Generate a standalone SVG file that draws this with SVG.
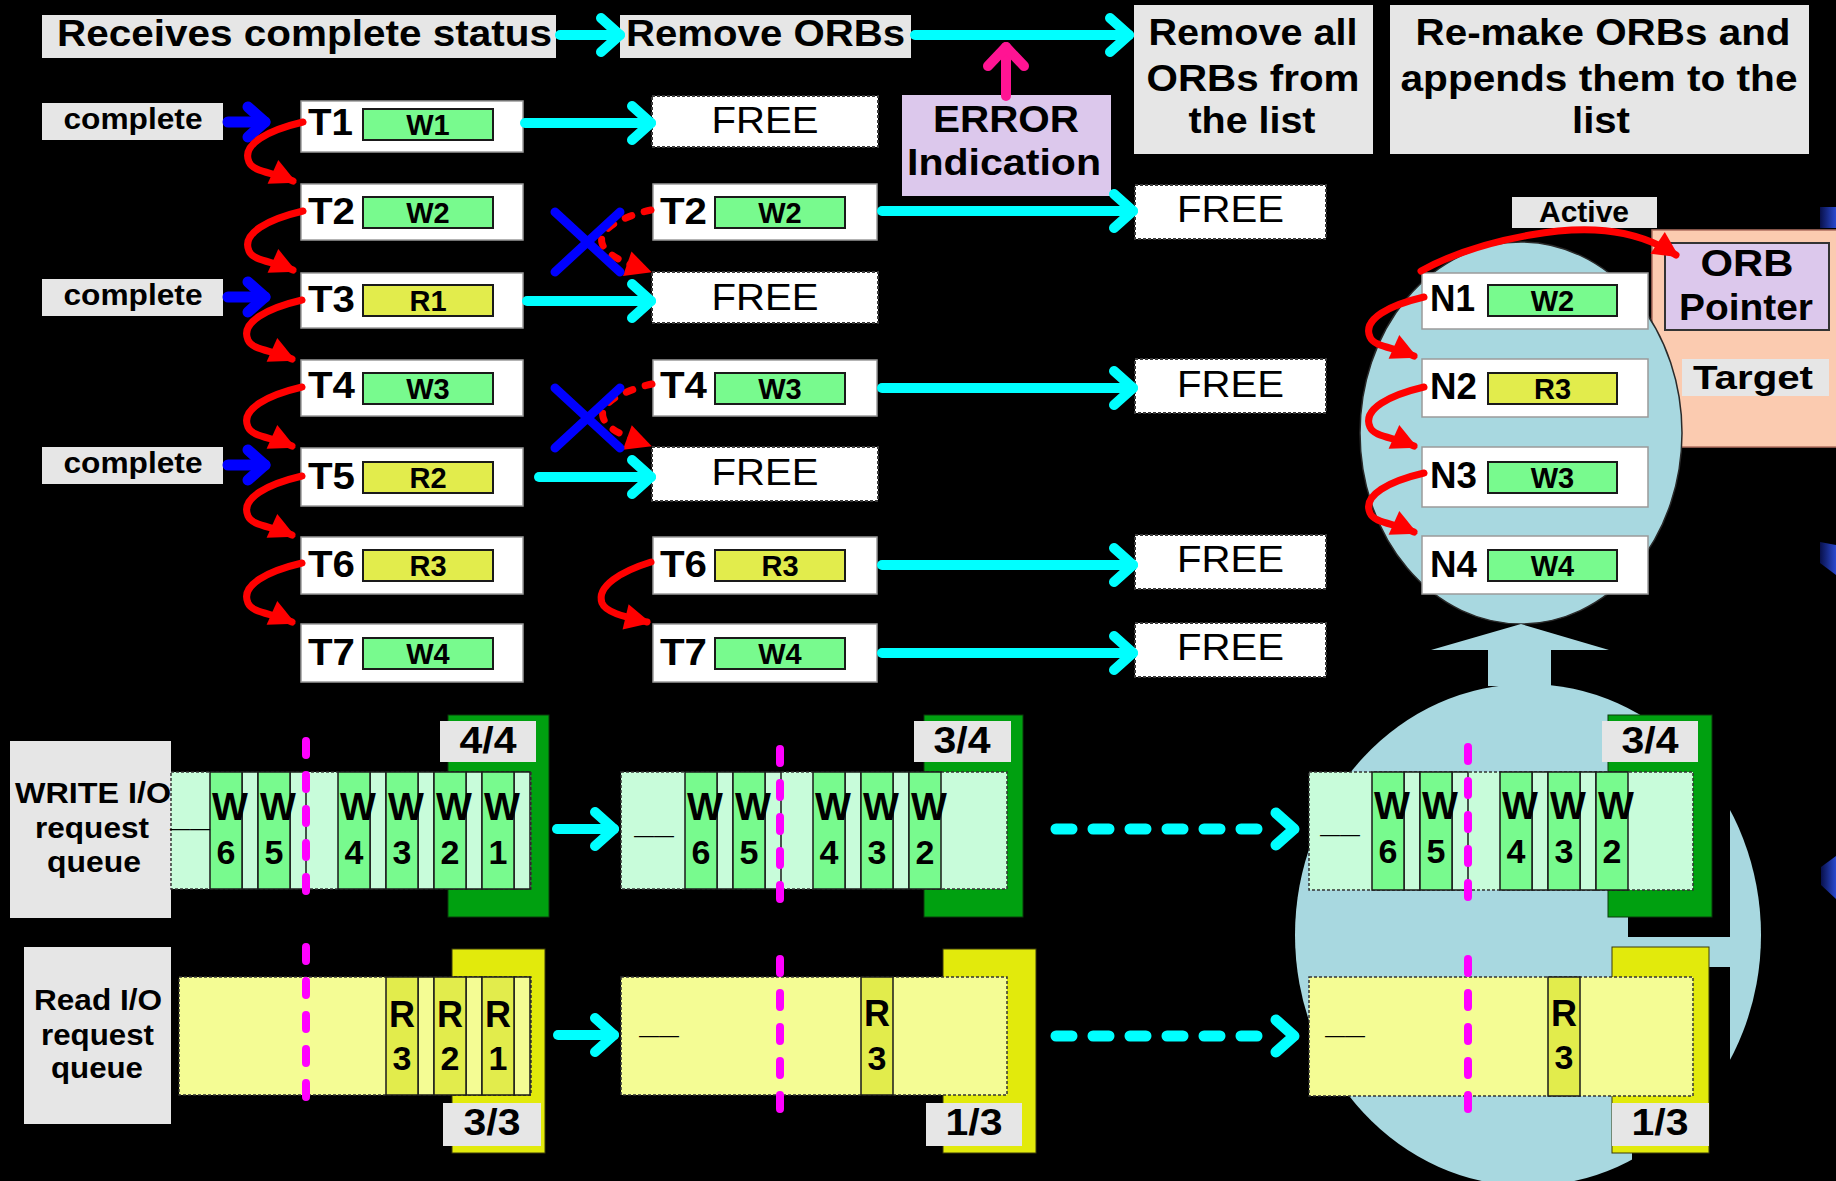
<svg xmlns="http://www.w3.org/2000/svg" width="1836" height="1181" viewBox="0 0 1836 1181">
<defs>
<style>
text{font-family:"Liberation Sans",Arial,Helvetica,sans-serif;font-weight:bold;fill:#000}
.c{text-anchor:middle}
.reg{font-weight:normal}
.g{fill:#e6e6e6}
.tb{fill:#fff;stroke:#9a9a9a;stroke-width:1.5}
.fr{fill:#fff;stroke:#3a3a3a;stroke-width:2;stroke-dasharray:3 2}
.wi{fill:#78fa8e;stroke:#1a1a1a;stroke-width:2}
.ri{fill:#e2ec4c;stroke:#1a1a1a;stroke-width:2}
.cy{fill:none;stroke:#00ffff;stroke-width:10;stroke-linecap:round;marker-end:url(#cyH)}
.cyd{fill:none;stroke:#00ffff;stroke-width:11;stroke-linecap:round;stroke-dasharray:16 21}
.cyv{fill:none;stroke:#00ffff;stroke-width:11;stroke-linecap:round;stroke-linejoin:round}
.bl{fill:none;stroke:#0000ff;stroke-width:11;stroke-linecap:round;marker-end:url(#blH)}
.pk{fill:none;stroke:#ff1493;stroke-width:10;stroke-linecap:round;marker-end:url(#pkH)}
.rd{fill:none;stroke:#ff0000;stroke-width:7;stroke-linecap:round;marker-end:url(#rdH)}
.dsh{stroke-dasharray:7 13}
.xb{fill:none;stroke:#0000ff;stroke-width:9;stroke-linecap:round}
.mg{stroke:#ff00ff;stroke-width:8;stroke-dasharray:14 20;stroke-linecap:round}
.ws{fill:#c8fcda;stroke:#333;stroke-width:1.5;stroke-dasharray:3 2}
.rs{fill:#f4fc94;stroke:#333;stroke-width:1.5;stroke-dasharray:3 2}
.wc{fill:#78fa8e;stroke:#1a1a1a;stroke-width:1.5}
.wsp{fill:#c8fcda;stroke:#1a1a1a;stroke-width:1.5}
.rc{fill:#e2ec4c;stroke:#1a1a1a;stroke-width:1.5}
.rsp{fill:#f4fc94;stroke:#1a1a1a;stroke-width:1.5}
.gb{fill:#00a010;stroke:#0a3a0a;stroke-width:1}
.yb{fill:#e2ea0c;stroke:#3a3a0a;stroke-width:1}
.lb{fill:#a8d8e0}
.dash{font-weight:normal;font-size:20px}
</style>
<marker id="cyH" markerUnits="userSpaceOnUse" viewBox="-30 -25 40 50" markerWidth="40" markerHeight="50" refX="0" refY="0" orient="auto" overflow="visible"><path d="M-19,-17 L0,0 L-19,17" fill="none" stroke="#00ffff" stroke-width="10" stroke-linecap="round" stroke-linejoin="round"/></marker>
<marker id="blH" markerUnits="userSpaceOnUse" viewBox="-30 -25 40 50" markerWidth="40" markerHeight="50" refX="0" refY="0" orient="auto" overflow="visible"><path d="M-17,-15 L0,0 L-17,15" fill="none" stroke="#0000ff" stroke-width="11" stroke-linecap="round" stroke-linejoin="round"/></marker>
<marker id="pkH" markerUnits="userSpaceOnUse" viewBox="-30 -25 40 50" markerWidth="40" markerHeight="50" refX="0" refY="0" orient="auto" overflow="visible"><path d="M-19,-18 L0,0 L-19,18" fill="none" stroke="#ff1493" stroke-width="10" stroke-linecap="round" stroke-linejoin="round"/></marker>
<marker id="rdH" markerUnits="userSpaceOnUse" viewBox="-28 -16 36 32" markerWidth="36" markerHeight="32" refX="0" refY="0" orient="auto" overflow="visible"><path d="M4,0 L-22,-13 L-22,13 Z" fill="#ff0000"/></marker>
<linearGradient id="sl" x1="0" y1="0" x2="1" y2="0"><stop offset="0" stop-color="#08104a"/><stop offset="1" stop-color="#2a4ad0"/></linearGradient>
</defs>
<rect x="0" y="0" width="1836" height="1181" fill="#000"/>

<!-- background shapes -->
<rect x="1652" y="230" width="190" height="217" fill="#fbcbb0" stroke="#b07060" stroke-width="1.5"/>
<ellipse class="lb" cx="1521" cy="433" rx="161" ry="191" stroke="#2a2a2a" stroke-width="1.5"/>
<ellipse class="lb" cx="1528" cy="935" rx="233" ry="251"/>
<polygon class="lb" points="1431,650 1521,624 1609,650 1551,650 1551,686 1488,686 1488,650"/>
<polygon fill="url(#sl)" points="1820,207 1836,207 1836,228 1820,228"/>
<polygon fill="url(#sl)" points="1820,542 1836,545 1836,575 1820,563"/>
<polygon fill="url(#sl)" points="1821,867 1836,856 1836,899 1821,885"/>

<!-- header nodes -->
<g id="hdr-receives"><rect class="g" x="42" y="15" width="514" height="43"/><text x="57" y="46" font-size="36" textLength="495" lengthAdjust="spacingAndGlyphs">Receives complete status</text></g>
<g id="hdr-remove"><rect class="g" x="620" y="15" width="291" height="43"/><text x="626" y="46" font-size="36" textLength="279" lengthAdjust="spacingAndGlyphs">Remove ORBs</text></g>
<g id="hdr-removeall"><rect class="g" x="1134" y="5" width="239" height="149"/>
<text class="c" x="1253" y="45" font-size="37" textLength="209" lengthAdjust="spacingAndGlyphs">Remove all</text>
<text class="c" x="1253" y="91" font-size="37" textLength="213" lengthAdjust="spacingAndGlyphs">ORBs from</text>
<text class="c" x="1252" y="133" font-size="37" textLength="127" lengthAdjust="spacingAndGlyphs">the list</text></g>
<g id="hdr-remake"><rect class="g" x="1390" y="5" width="419" height="149"/>
<text class="c" x="1603" y="45" font-size="37" textLength="375" lengthAdjust="spacingAndGlyphs">Re-make ORBs and</text>
<text class="c" x="1599" y="91" font-size="37" textLength="397" lengthAdjust="spacingAndGlyphs">appends them to the</text>
<text class="c" x="1601" y="133" font-size="37" textLength="58" lengthAdjust="spacingAndGlyphs">list</text></g>
<g id="error"><rect x="902" y="95" width="209" height="101" fill="#dcc8ec"/>
<text class="c" x="1006" y="132" font-size="37" textLength="146" lengthAdjust="spacingAndGlyphs">ERROR</text>
<text class="c" x="1004" y="175" font-size="37" textLength="194" lengthAdjust="spacingAndGlyphs">Indication</text></g>

<!-- complete labels -->
<g id="complete1"><rect class="g" x="42" y="103" width="181" height="37"/><text class="c" x="133" y="129" font-size="29" textLength="139" lengthAdjust="spacingAndGlyphs">complete</text></g>
<g id="complete2"><rect class="g" x="42" y="279" width="181" height="37"/><text class="c" x="133" y="305" font-size="29" textLength="139" lengthAdjust="spacingAndGlyphs">complete</text></g>
<g id="complete3"><rect class="g" x="42" y="447" width="181" height="37"/><text class="c" x="133" y="473" font-size="29" textLength="139" lengthAdjust="spacingAndGlyphs">complete</text></g>

<!-- column 1 -->
<g id="T1"><rect class="tb" x="301" y="101" width="222" height="51"/><text x="308" y="135" font-size="37" textLength="45" lengthAdjust="spacingAndGlyphs">T1</text><rect class="wi" x="363" y="109" width="130" height="31"/><text class="c" x="428" y="134.5" font-size="29">W1</text></g>
<g id="T2"><rect class="tb" x="301" y="184" width="222" height="56"/><text x="308" y="224" font-size="37" textLength="47" lengthAdjust="spacingAndGlyphs">T2</text><rect class="wi" x="363" y="197" width="130" height="31"/><text class="c" x="428" y="222.5" font-size="29">W2</text></g>
<g id="T3"><rect class="tb" x="301" y="273" width="222" height="55"/><text x="308" y="312" font-size="37" textLength="47" lengthAdjust="spacingAndGlyphs">T3</text><rect class="ri" x="363" y="285" width="130" height="31"/><text class="c" x="428" y="310.5" font-size="29">R1</text></g>
<g id="T4"><rect class="tb" x="301" y="360" width="222" height="56"/><text x="308" y="398" font-size="37" textLength="47" lengthAdjust="spacingAndGlyphs">T4</text><rect class="wi" x="363" y="373" width="130" height="31"/><text class="c" x="428" y="398.5" font-size="29">W3</text></g>
<g id="T5"><rect class="tb" x="301" y="448" width="222" height="58"/><text x="308" y="489" font-size="37" textLength="47" lengthAdjust="spacingAndGlyphs">T5</text><rect class="ri" x="363" y="462" width="130" height="31"/><text class="c" x="428" y="487.5" font-size="29">R2</text></g>
<g id="T6"><rect class="tb" x="301" y="537" width="222" height="57"/><text x="308" y="577" font-size="37" textLength="47" lengthAdjust="spacingAndGlyphs">T6</text><rect class="ri" x="363" y="550" width="130" height="31"/><text class="c" x="428" y="575.5" font-size="29">R3</text></g>
<g id="T7"><rect class="tb" x="301" y="624" width="222" height="58"/><text x="308" y="665" font-size="37" textLength="47" lengthAdjust="spacingAndGlyphs">T7</text><rect class="wi" x="363" y="638" width="130" height="31"/><text class="c" x="428" y="663.5" font-size="29">W4</text></g>

<!-- column 2 -->
<g id="free-c2-1"><rect class="fr" x="652" y="96" width="226" height="51"/><text class="c reg" x="765" y="133" font-size="37" textLength="107" lengthAdjust="spacingAndGlyphs">FREE</text></g>
<g id="T2b"><rect class="tb" x="653" y="184" width="224" height="56"/><text x="660" y="224" font-size="37" textLength="47" lengthAdjust="spacingAndGlyphs">T2</text><rect class="wi" x="715" y="197" width="130" height="31"/><text class="c" x="780" y="222.5" font-size="29">W2</text></g>
<g id="free-c2-2"><rect class="fr" x="652" y="272" width="226" height="51"/><text class="c reg" x="765" y="310" font-size="37" textLength="107" lengthAdjust="spacingAndGlyphs">FREE</text></g>
<g id="T4b"><rect class="tb" x="653" y="360" width="224" height="56"/><text x="660" y="398" font-size="37" textLength="47" lengthAdjust="spacingAndGlyphs">T4</text><rect class="wi" x="715" y="373" width="130" height="31"/><text class="c" x="780" y="398.5" font-size="29">W3</text></g>
<g id="free-c2-3"><rect class="fr" x="652" y="447" width="226" height="54"/><text class="c reg" x="765" y="485" font-size="37" textLength="107" lengthAdjust="spacingAndGlyphs">FREE</text></g>
<g id="T6b"><rect class="tb" x="653" y="537" width="224" height="57"/><text x="660" y="577" font-size="37" textLength="47" lengthAdjust="spacingAndGlyphs">T6</text><rect class="ri" x="715" y="550" width="130" height="31"/><text class="c" x="780" y="575.5" font-size="29">R3</text></g>
<g id="T7b"><rect class="tb" x="653" y="624" width="224" height="58"/><text x="660" y="665" font-size="37" textLength="47" lengthAdjust="spacingAndGlyphs">T7</text><rect class="wi" x="715" y="638" width="130" height="31"/><text class="c" x="780" y="663.5" font-size="29">W4</text></g>

<!-- column 3 -->
<g id="free-c3-1"><rect class="fr" x="1135" y="185" width="191" height="54"/><text class="c reg" x="1230.5" y="222" font-size="37" textLength="107" lengthAdjust="spacingAndGlyphs">FREE</text></g>
<g id="free-c3-2"><rect class="fr" x="1135" y="359" width="191" height="54"/><text class="c reg" x="1230.5" y="397" font-size="37" textLength="107" lengthAdjust="spacingAndGlyphs">FREE</text></g>
<g id="free-c3-3"><rect class="fr" x="1135" y="535" width="191" height="54"/><text class="c reg" x="1230.5" y="572" font-size="37" textLength="107" lengthAdjust="spacingAndGlyphs">FREE</text></g>
<g id="free-c3-4"><rect class="fr" x="1135" y="623" width="191" height="54"/><text class="c reg" x="1230.5" y="660" font-size="37" textLength="107" lengthAdjust="spacingAndGlyphs">FREE</text></g>

<!-- N list -->
<g id="active"><rect class="g" x="1512" y="197" width="145" height="31"/><text class="c" x="1584" y="222" font-size="30">Active</text></g>
<g id="N1"><rect class="tb" x="1422" y="273" width="226" height="56" stroke="#333"/><text x="1430" y="311" font-size="37" textLength="45" lengthAdjust="spacingAndGlyphs">N1</text><rect class="wi" x="1488" y="285" width="129" height="31"/><text class="c" x="1552.5" y="310.5" font-size="29">W2</text></g>
<g id="N2"><rect class="tb" x="1422" y="359" width="226" height="58" stroke="#333"/><text x="1430" y="399" font-size="37" textLength="47" lengthAdjust="spacingAndGlyphs">N2</text><rect class="ri" x="1488" y="373" width="129" height="31"/><text class="c" x="1552.5" y="398.5" font-size="29">R3</text></g>
<g id="N3"><rect class="tb" x="1422" y="447" width="226" height="60" stroke="#333"/><text x="1430" y="488" font-size="37" textLength="47" lengthAdjust="spacingAndGlyphs">N3</text><rect class="wi" x="1488" y="462" width="129" height="31"/><text class="c" x="1552.5" y="487.5" font-size="29">W3</text></g>
<g id="N4"><rect class="tb" x="1422" y="536" width="226" height="58" stroke="#333"/><text x="1430" y="577" font-size="37" textLength="47" lengthAdjust="spacingAndGlyphs">N4</text><rect class="wi" x="1488" y="550" width="129" height="31"/><text class="c" x="1552.5" y="575.5" font-size="29">W4</text></g>
<g id="orb-pointer"><rect x="1665" y="243" width="164" height="87" fill="#dcc8ec" stroke="#333" stroke-width="2"/>
<text class="c" x="1747" y="276" font-size="36" textLength="93" lengthAdjust="spacingAndGlyphs">ORB</text>
<text class="c" x="1746" y="320" font-size="36" textLength="134" lengthAdjust="spacingAndGlyphs">Pointer</text></g>
<g id="target"><rect class="g" x="1682" y="359" width="147" height="37"/><text class="c" x="1753" y="389" font-size="34" textLength="120" lengthAdjust="spacingAndGlyphs">Target</text></g>

<!-- queue labels -->
<g id="write-label"><rect class="g" x="10" y="741" width="161" height="177"/>
<text class="c" x="93" y="803" font-size="29" textLength="156" lengthAdjust="spacingAndGlyphs">WRITE I/O</text>
<text class="c" x="92" y="838" font-size="29" textLength="114" lengthAdjust="spacingAndGlyphs">request</text>
<text class="c" x="94" y="872" font-size="29" textLength="94" lengthAdjust="spacingAndGlyphs">queue</text></g>
<g id="read-label"><rect class="g" x="24" y="947" width="147" height="177"/>
<text class="c" x="98" y="1010" font-size="29" textLength="128" lengthAdjust="spacingAndGlyphs">Read I/O</text>
<text class="c" x="97.5" y="1045" font-size="29" textLength="113" lengthAdjust="spacingAndGlyphs">request</text>
<text class="c" x="97" y="1078" font-size="29" textLength="92" lengthAdjust="spacingAndGlyphs">queue</text></g>

<!-- left write queue -->
<g id="wq-left">
<rect class="gb" x="448" y="715" width="101" height="202"/>
<rect class="g" x="440" y="721" width="96" height="41"/><text class="c" x="488" y="753" font-size="36" textLength="57" lengthAdjust="spacingAndGlyphs">4/4</text>
<rect class="ws" x="171" y="772" width="360" height="117"/>
<rect class="wsp" x="242" y="772" width="16" height="117"/><rect class="wsp" x="290" y="772" width="16" height="117"/><rect class="wsp" x="370" y="772" width="16" height="117"/><rect class="wsp" x="418" y="772" width="16" height="117"/><rect class="wsp" x="466" y="772" width="16" height="117"/><rect class="wsp" x="514" y="772" width="16" height="117"/>
<rect class="wc" x="210" y="772" width="32" height="117"/><rect class="wc" x="258" y="772" width="32" height="117"/><rect class="wc" x="338" y="772" width="32" height="117"/><rect class="wc" x="386" y="772" width="32" height="117"/><rect class="wc" x="434" y="772" width="32" height="117"/><rect class="wc" x="482" y="772" width="32" height="117"/>
<g font-size="38"><text x="212" y="820">W</text><text x="260" y="820">W</text><text x="340" y="820">W</text><text x="388" y="820">W</text><text x="436" y="820">W</text><text x="484" y="820">W</text></g>
<g font-size="34" class="c"><text x="226" y="864">6</text><text x="274" y="864">5</text><text x="354" y="864">4</text><text x="402" y="864">3</text><text x="450" y="864">2</text><text x="498" y="864">1</text></g>
<text class="dash" x="170" y="835">——</text>
<line class="mg" x1="306" y1="741" x2="306" y2="896"/>
</g>

<!-- left read queue -->
<g id="rq-left">
<rect class="yb" x="452" y="949" width="93" height="204"/>
<rect class="rs" x="179" y="977" width="352" height="118"/>
<rect class="rsp" x="418" y="977" width="16" height="118"/><rect class="rsp" x="466" y="977" width="16" height="118"/><rect class="rsp" x="514" y="977" width="16" height="118"/>
<rect class="rc" x="386" y="977" width="32" height="118"/><rect class="rc" x="434" y="977" width="32" height="118"/><rect class="rc" x="482" y="977" width="32" height="118"/>
<g font-size="36" class="c"><text x="402" y="1027">R</text><text x="450" y="1027">R</text><text x="498" y="1027">R</text></g>
<g font-size="34" class="c"><text x="402" y="1070">3</text><text x="450" y="1070">2</text><text x="498" y="1070">1</text></g>
<rect class="g" x="443" y="1103" width="98" height="43"/><text class="c" x="492" y="1135" font-size="36" textLength="57" lengthAdjust="spacingAndGlyphs">3/3</text>
<line class="mg" x1="306" y1="947" x2="306" y2="1103"/>
</g>

<!-- middle write queue -->
<g id="wq-mid">
<rect class="gb" x="924" y="715" width="99" height="202"/>
<rect class="g" x="914" y="721" width="97" height="41"/><text class="c" x="962" y="753" font-size="36" textLength="57" lengthAdjust="spacingAndGlyphs">3/4</text>
<rect class="ws" x="621" y="772" width="386" height="117"/>
<rect class="wsp" x="717" y="772" width="16" height="117"/><rect class="wsp" x="765" y="772" width="16" height="117"/><rect class="wsp" x="845" y="772" width="16" height="117"/><rect class="wsp" x="893" y="772" width="16" height="117"/>
<rect class="wc" x="685" y="772" width="32" height="117"/><rect class="wc" x="733" y="772" width="32" height="117"/><rect class="wc" x="813" y="772" width="32" height="117"/><rect class="wc" x="861" y="772" width="32" height="117"/><rect class="wc" x="909" y="772" width="32" height="117"/>
<g font-size="38"><text x="687" y="820">W</text><text x="735" y="820">W</text><text x="815" y="820">W</text><text x="863" y="820">W</text><text x="911" y="820">W</text></g>
<g font-size="34" class="c"><text x="701" y="864">6</text><text x="749" y="864">5</text><text x="829" y="864">4</text><text x="877" y="864">3</text><text x="925" y="864">2</text></g>
<text class="dash" x="634" y="842">——</text>
<line class="mg" x1="780" y1="749" x2="780" y2="901"/>
</g>

<!-- middle read queue -->
<g id="rq-mid">
<rect class="yb" x="943" y="949" width="93" height="204"/>
<rect class="rs" x="621" y="977" width="386" height="118"/>
<rect class="rc" x="861" y="977" width="32" height="118"/>
<text class="c" x="877" y="1026" font-size="36">R</text><text class="c" x="877" y="1070" font-size="34">3</text>
<rect class="g" x="926" y="1103" width="96" height="43"/><text class="c" x="974" y="1135" font-size="36" textLength="57" lengthAdjust="spacingAndGlyphs">1/3</text>
<text class="dash" x="639" y="1042">——</text>
<line class="mg" x1="780" y1="959" x2="780" y2="1113"/>
</g>

<!-- right queues -->
<g id="wq-right">
<rect x="1628" y="735" width="102" height="202" fill="#000"/>
<rect class="gb" x="1608" y="715" width="104" height="202"/>
<rect class="g" x="1602" y="721" width="96" height="41"/><text class="c" x="1650" y="753" font-size="36" textLength="57" lengthAdjust="spacingAndGlyphs">3/4</text>
<rect class="ws" x="1309" y="772" width="384" height="118"/>
<rect class="wsp" x="1404" y="772" width="16" height="118"/><rect class="wsp" x="1452" y="772" width="16" height="118"/><rect class="wsp" x="1532" y="772" width="16" height="118"/><rect class="wsp" x="1580" y="772" width="16" height="118"/>
<rect class="wc" x="1372" y="772" width="32" height="118"/><rect class="wc" x="1420" y="772" width="32" height="118"/><rect class="wc" x="1500" y="772" width="32" height="118"/><rect class="wc" x="1548" y="772" width="32" height="118"/><rect class="wc" x="1596" y="772" width="32" height="118"/>
<g font-size="38"><text x="1374" y="819">W</text><text x="1422" y="819">W</text><text x="1502" y="819">W</text><text x="1550" y="819">W</text><text x="1598" y="819">W</text></g>
<g font-size="34" class="c"><text x="1388" y="863">6</text><text x="1436" y="863">5</text><text x="1516" y="863">4</text><text x="1564" y="863">3</text><text x="1612" y="863">2</text></g>
<text class="dash" x="1320" y="841">——</text>
<line class="mg" x1="1468" y1="747" x2="1468" y2="900"/>
</g>
<g id="rq-right">
<rect x="1632" y="967" width="98" height="206" fill="#000"/>
<rect class="yb" x="1612" y="947" width="97" height="206"/>
<rect class="rs" x="1309" y="977" width="384" height="119"/>
<rect class="rc" x="1548" y="977" width="32" height="119"/>
<text class="c" x="1564" y="1026" font-size="36">R</text><text class="c" x="1564" y="1069" font-size="34">3</text>
<rect class="g" x="1612" y="1103" width="97" height="43"/><text class="c" x="1660" y="1135" font-size="36" textLength="57" lengthAdjust="spacingAndGlyphs">1/3</text>
<text class="dash" x="1325" y="1042">——</text>
<line class="mg" x1="1468" y1="959" x2="1468" y2="1111"/>
</g>

<!-- connectors -->
<g id="connectors">
<path class="cy" d="M560,35 H620"/>
<path class="cy" d="M915,35 H1129"/>
<path class="pk" d="M1006,96 V47"/>
<path class="bl" d="M228,122 H265"/>
<path class="bl" d="M228,297 H265"/>
<path class="bl" d="M228,465 H265"/>
<path class="cy" d="M525,123 H651"/>
<path class="cy" d="M527,301 H651"/>
<path class="cy" d="M539,477 H651"/>
<path class="cy" d="M882,211 H1133"/>
<path class="cy" d="M882,388 H1133"/>
<path class="cy" d="M882,565 H1133"/>
<path class="cy" d="M882,653 H1133"/>
<path class="cy" d="M557,829 H614"/>
<path class="cy" d="M558,1035 H614"/>
<path class="cyd" d="M1056,829 H1258"/>
<path class="cyv" d="M1276,813 L1294,829 L1276,845"/>
<path class="cyd" d="M1056,1036 H1258"/>
<path class="cyv" d="M1276,1020 L1294,1036 L1276,1052"/>
<path class="rd" d="M303,122 c-34,8 -62,22 -54,40 c4,10 24,10 44,19"/>
<path class="rd" d="M303,211 c-34,8 -62,22 -54,40 c4,10 24,10 44,19"/>
<path class="rd" d="M302,300 c-34,8 -62,22 -54,40 c4,10 24,10 44,19"/>
<path class="rd" d="M302,387 c-34,8 -62,22 -54,40 c4,10 24,10 44,19"/>
<path class="rd" d="M302,476 c-34,8 -62,22 -54,40 c4,10 24,10 44,19"/>
<path class="rd" d="M302,563 c-34,8 -62,22 -54,40 c4,10 24,10 44,19"/>
<path class="rd dsh" d="M651,210 C625,216 598,228 602,243 C605,255 625,263 648,271"/>
<path class="rd dsh" d="M652,384 C626,390 599,402 603,417 C606,429 626,437 648,445"/>
<path class="rd" d="M651,562 C622,571 596,586 602,603 C606,613 626,617 647,622"/>
<path class="xb" d="M555,212 L620,272 M620,212 L555,272"/>
<path class="xb" d="M555,388 L620,448 M620,388 L555,448"/>
<path class="rd" d="M1424,297 c-34,8 -62,22 -54,40 c4,10 24,10 44,19"/>
<path class="rd" d="M1424,387 c-34,8 -62,22 -54,40 c4,10 24,10 44,19"/>
<path class="rd" d="M1424,473 c-34,8 -62,22 -54,40 c4,10 24,10 44,19"/>
<path class="rd" d="M1421,271 C1450,255 1490,242 1530,235 C1580,226 1632,226 1676,255"/>
</g>
</svg>
